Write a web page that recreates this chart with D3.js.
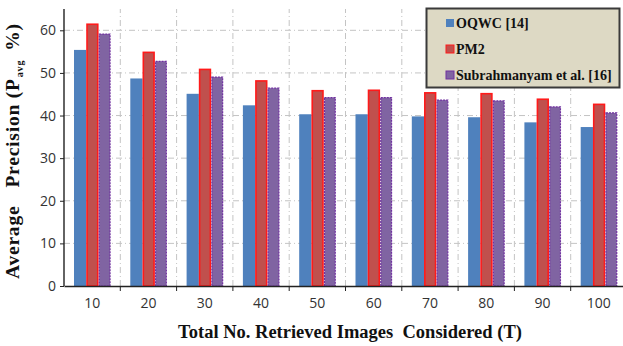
<!DOCTYPE html>
<html>
<head>
<meta charset="utf-8">
<script src="https://cdn.jsdelivr.net/npm/d3@7"></script>
<style>
  body { margin: 0; background: #fff; }
  svg { display: block; }
</style>
</head>
<body>
<div id="chart"></div>
<script>
// data
const categories = ['10', '20', '30', '40', '50', '60', '70', '80', '90', '100'];
const seriesNames = ['OQWC [14]', 'PM2', 'Subrahmanyam et al. [16]'];
const oqwc = [55.4, 48.7, 45.1, 42.4, 40.3, 40.3, 39.8, 39.6, 38.4, 37.3];
const pm2 = [61.6, 55.0, 51.0, 48.3, 46.0, 46.1, 45.5, 45.3, 44.0, 42.8];
const subra = [59.3, 52.9, 49.2, 46.6, 44.4, 44.4, 43.8, 43.6, 42.2, 40.8];
const yTicks = [0, 10, 20, 30, 40, 50, 60];

const width = 623, height = 346;
const margin = {top: 9, left: 64, bottom: 60};
const plotRight = 627;
const serif = "'Liberation Serif', 'Times New Roman', Times, serif";

const svg = d3.select('#chart')
  .append('svg')
    .attr('width', width)
    .attr('height', height);

const x = d3.scaleBand()
  .domain(categories)
  .range([margin.left, plotRight])
  .padding(0);

const xInner = d3.scaleBand()
  .domain(seriesNames)
  .range([10, x.bandwidth() - 9.5])
  .padding(0);

const y = d3.scaleLinear()
  .domain([0, 65])
  .range([height - margin.bottom, margin.top]);

const table = categories.map((c, i) => ({
  cat: c,
  vals: [oqwc[i], pm2[i], subra[i]]
}));

// grid
const grid = svg.append('g');
grid.selectAll('line.h')
  .data(yTicks.slice(1))
  .join('line')
    .attr('class', 'h')
    .attr('x1', margin.left)
    .attr('x2', plotRight)
    .attr('y1', d => y(d))
    .attr('y2', d => y(d))
    .attr('stroke', '#c4c4c4')
    .attr('stroke-width', 1)
    .attr('stroke-dasharray', '6,3,1,3');

grid.selectAll('line.v')
  .data(categories.slice(1))
  .join('line')
    .attr('class', 'v')
    .attr('x1', d => x(d))
    .attr('x2', d => x(d))
    .attr('y1', y(0))
    .attr('y2', y(65))
    .attr('stroke', '#c4c4c4')
    .attr('stroke-width', 1)
    .attr('stroke-dasharray', '6,3,1,3');

// bars
const fills = ['#4f81bd', '#c0504d', '#8064a2'];
const strokes = ['none', '#ff1a1a', '#7030a0'];
const dashes = [null, null, '2,1'];

const groups = svg.append('g')
  .selectAll('g')
  .data(table)
  .join('g')
    .attr('transform', d => 'translate(' + x(d.cat) + ',0)');

groups.selectAll('rect')
  .data(d => d.vals.map((v, k) => ({v: v, k: k})))
  .join('rect')
    .attr('x', d => xInner(seriesNames[d.k]) + (d.k ? 0.75 : 0))
    .attr('width', d => xInner.bandwidth() - (d.k ? 1.5 : 0))
    .attr('y', d => y(d.v) + (d.k ? 0.75 : 0))
    .attr('height', d => y(0) - y(d.v) - (d.k ? 0.75 : 0))
    .attr('fill', d => fills[d.k])
    .attr('stroke', d => strokes[d.k])
    .attr('stroke-width', d => d.k === 1 ? 1.6 : 1.2)
    .attr('stroke-dasharray', d => dashes[d.k]);

// axes
const yAxis = svg.append('g')
  .attr('transform', 'translate(' + margin.left + ',0)')
  .call(d3.axisLeft(y).tickValues(yTicks).tickSize(4).tickPadding(4));

const xAxis = svg.append('g')
  .attr('transform', 'translate(0,' + y(0) + ')')
  .call(d3.axisBottom(x).tickSize(0).tickPadding(12));

xAxis.selectAll('.tick-sep')
  .data(categories.slice(1))
  .join('line')
    .attr('class', 'tick-sep')
    .attr('x1', d => x(d))
    .attr('x2', d => x(d))
    .attr('y1', 0)
    .attr('y2', 5)
    .attr('stroke', '#222');

yAxis.select('.domain').attr('d', 'M0,' + y(0) + 'V' + y(65)).attr('stroke', '#222').attr('stroke-width', 1.4);
xAxis.select('.domain').attr('stroke', '#222').attr('stroke-width', 1.4);
yAxis.selectAll('.tick line').attr('stroke', '#222');

svg.selectAll('.tick text')
  .attr('font-family', "'Open Sans', 'Liberation Sans', sans-serif")
  .attr('font-size', 14)
  .attr('fill', '#333');

// axis titles
svg.append('text')
  .attr('x', 350)
  .attr('y', 338)
  .attr('text-anchor', 'middle')
  .attr('font-family', serif)
  .attr('font-weight', 'bold')
  .attr('font-size', 18.5)
  .attr('fill', '#111')
  .attr('xml:space', 'preserve')
  .text('Total No. Retrieved Images  Considered (T)');

const ylab = svg.append('text')
  .attr('transform', 'translate(19,279) rotate(-90)')
  .attr('text-anchor', 'start')
  .attr('font-family', serif)
  .attr('font-weight', 'bold')
  .attr('font-size', 19.5)
  .attr('fill', '#111')
  .attr('textLength', 255)
  .attr('lengthAdjust', 'spacing');
ylab.append('tspan').text('Average');
ylab.append('tspan').attr('dx', 18).text('Precision (P');
ylab.append('tspan').attr('font-size', 10).attr('dy', 4).attr('dx', 1).text('avg');
ylab.append('tspan').attr('dx', 9).attr('dy', -4).text('%)');

// legend
const legend = svg.append('g');
legend.append('rect')
  .attr('x', 426.5)
  .attr('y', 8.5)
  .attr('width', 193)
  .attr('height', 79)
  .attr('fill', '#ddd9c4')
  .attr('stroke', '#3a3a3a')
  .attr('stroke-width', 2);

const items = legend.selectAll('g.item')
  .data(seriesNames)
  .join('g')
    .attr('class', 'item')
    .attr('transform', (d, i) => 'translate(446,' + (23 + i * 26) + ')');

items.append('rect')
  .attr('x', 0)
  .attr('y', -4)
  .attr('width', 8)
  .attr('height', 8)
  .attr('fill', (d, i) => fills[i])
  .attr('stroke', (d, i) => strokes[i])
  .attr('stroke-width', 1);

items.append('text')
  .attr('x', 10)
  .attr('y', 5)
  .attr('font-family', serif)
  .attr('font-weight', 'bold')
  .attr('font-size', 14)
  .attr('fill', '#111')
  .text(d => d);
</script>
</body>
</html>
